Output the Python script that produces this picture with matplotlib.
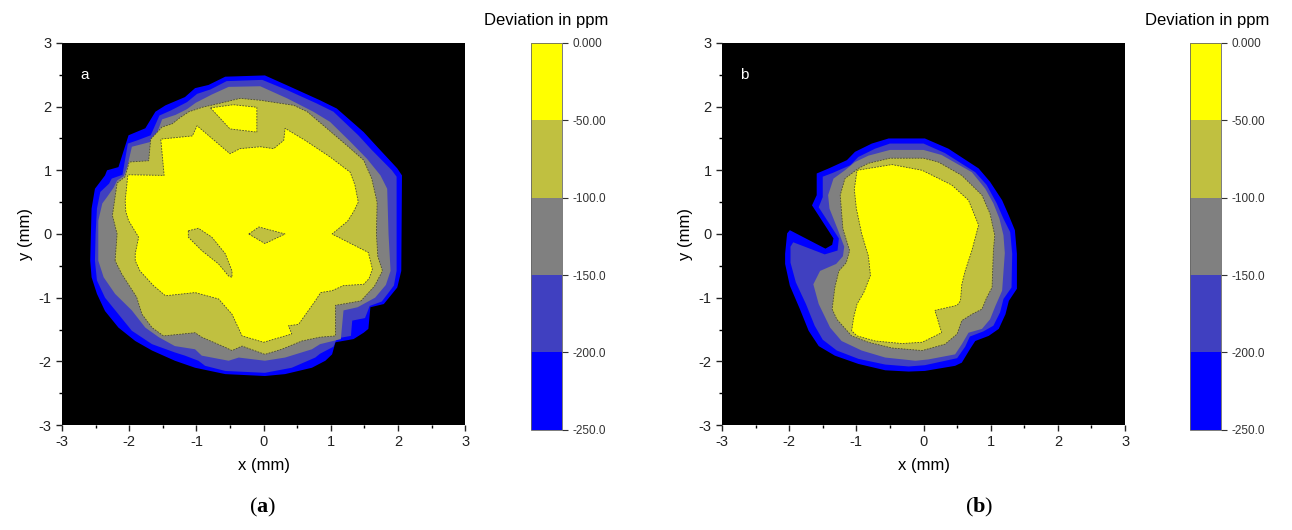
import numpy as np
import matplotlib
matplotlib.use("Agg")
import matplotlib.pyplot as plt
from matplotlib.colors import ListedColormap, BoundaryNorm
from matplotlib.cm import ScalarMappable

plt.rcParams['font.family'] = ['Liberation Sans', 'DejaVu Sans']
plt.rcParams['axes.unicode_minus'] = False
plt.rcParams['mathtext.fontset'] = 'custom'
plt.rcParams['mathtext.rm'] = 'Liberation Serif'
plt.rcParams['mathtext.bf'] = 'Liberation Serif:bold'

# contour levels (ppm) and their fill colours, lowest band first
levels = [-250, -200, -150, -100, -50, 0]
level_labels = ['-250.0', '-200.0', '-150.0', '-100.0', '-50.00', '0.000']
band_colors = ['#0000ff', '#4040c0', '#808080', '#c0c040', '#ffff00']

# ---- panel a: contour boundaries (x mm, y mm) ----
a_250 = [(-2.58, -0.42), (-2.57, 0.0), (-2.56, 0.40), (-2.51, 0.71), (-2.36, 0.92), (-2.33, 1.0),
         (-2.16, 1.05), (-2.01, 1.55), (-1.76, 1.66), (-1.61, 1.92), (-1.46, 2.02), (-1.17, 2.15),
         (-1.02, 2.29), (-0.82, 2.34), (-0.57, 2.47), (0.02, 2.49), (0.40, 2.31), (0.84, 2.10),
         (1.09, 1.97), (1.49, 1.60), (1.69, 1.37), (1.99, 1.03), (2.06, 0.92), (2.05, -0.58),
         (1.99, -0.84), (1.79, -1.10), (1.59, -1.15), (1.56, -1.49), (1.49, -1.55), (1.34, -1.65),
         (1.07, -1.70), (1.02, -1.89), (0.92, -1.99), (0.72, -2.10), (0.32, -2.20), (0.02, -2.23),
         (-0.57, -2.20), (-1.02, -2.10), (-1.32, -1.99), (-1.66, -1.83), (-1.91, -1.68),
         (-2.16, -1.47), (-2.36, -1.21), (-2.48, -0.94), (-2.56, -0.68)]
a_200 = [(-2.51, -0.42), (-2.50, 0.0), (-2.48, 0.40), (-2.43, 0.66), (-2.30, 0.79), (-2.26, 0.87),
         (-2.10, 0.93), (-2.02, 1.42), (-1.88, 1.47), (-1.68, 1.55), (-1.55, 1.86), (-1.38, 1.94),
         (-1.14, 2.07), (-0.99, 2.20), (-0.79, 2.27), (-0.55, 2.40), (-0.02, 2.42), (0.35, 2.26),
         (0.79, 2.05), (1.04, 1.92), (1.41, 1.55), (1.61, 1.32), (1.91, 1.0), (1.98, 0.90),
         (1.98, -0.58), (1.94, -0.81), (1.76, -1.06), (1.58, -1.13), (1.51, -1.32), (1.32, -1.36),
         (1.30, -1.60), (1.09, -1.64), (1.04, -1.77), (0.84, -1.88), (0.77, -1.94), (0.42, -2.10),
         (0.02, -2.18), (-0.57, -2.15), (-0.87, -2.07), (-0.97, -1.99), (-1.17, -1.91),
         (-1.32, -1.86), (-1.66, -1.73), (-1.96, -1.52), (-2.16, -1.26), (-2.36, -1.0), (-2.48, -0.73)]
a_150 = [(-2.46, -0.42), (-2.46, 0.21), (-2.40, 0.48), (-2.33, 0.58), (-2.23, 0.73), (-2.18, 0.84),
         (-2.08, 0.91), (-2.03, 1.05), (-1.96, 1.37), (-1.63, 1.46), (-1.51, 1.80), (-1.31, 1.87),
         (-1.14, 1.96), (-1.01, 2.06), (-0.77, 2.19), (-0.52, 2.31), (-0.05, 2.32), (0.35, 2.13),
         (0.74, 1.92), (0.99, 1.76), (1.29, 1.45), (1.54, 1.18), (1.74, 0.92), (1.84, 0.71),
         (1.86, 0.0), (1.89, -0.58), (1.82, -0.80), (1.66, -1.0), (1.40, -1.15), (1.19, -1.20),
         (1.15, -1.65), (0.84, -1.73), (0.72, -1.81), (0.32, -1.94), (0.02, -1.99), (-0.37, -1.94),
         (-0.52, -1.99), (-0.92, -1.91), (-1.02, -1.81), (-1.32, -1.76), (-1.56, -1.62),
         (-1.76, -1.47), (-1.96, -1.20), (-2.21, -0.94), (-2.38, -0.68)]
a_100 = [(-2.21, -0.42), (-2.18, 0.0), (-2.23, 0.21), (-2.25, 0.29), (-2.18, 0.80), (-2.06, 0.90),
         (-2.0, 1.13), (-1.71, 1.15), (-1.68, 1.49), (-1.51, 1.68), (-1.36, 1.73), (-1.24, 1.83),
         (-1.11, 1.92), (-0.91, 1.99), (-0.62, 2.06), (-0.35, 2.13), (-0.05, 2.10), (0.45, 2.02),
         (0.65, 1.92), (0.94, 1.66), (1.24, 1.39), (1.49, 1.16), (1.61, 0.87), (1.69, 0.50),
         (1.68, 0.0), (1.70, -0.35), (1.77, -0.58), (1.65, -0.82), (1.45, -1.05), (1.07, -1.12),
         (1.07, -1.60), (0.84, -1.62), (0.57, -1.68), (0.27, -1.81), (0.02, -1.89), (-0.32, -1.76),
         (-0.47, -1.83), (-0.57, -1.78), (-0.92, -1.62), (-1.02, -1.55), (-1.49, -1.60),
         (-1.66, -1.47), (-1.81, -1.26), (-1.89, -0.99), (-2.11, -0.63)]
a_50 = [(-1.91, -0.42), (-1.91, -0.31), (-1.86, -0.05), (-2.01, 0.21), (-2.05, 0.35), (-2.06, 0.52),
        (-2.02, 0.93), (-1.48, 0.92), (-1.53, 1.49), (-1.06, 1.54), (-0.99, 1.70), (-0.50, 1.26),
        (-0.35, 1.34), (-0.05, 1.37), (0.15, 1.34), (0.30, 1.47), (0.32, 1.66), (0.62, 1.47),
        (0.99, 1.21), (1.29, 0.97), (1.36, 0.77), (1.41, 0.50), (1.34, 0.35), (1.25, 0.20),
        (1.02, 0.0), (1.56, -0.29), (1.62, -0.55), (1.57, -0.70), (1.49, -0.79), (1.19, -0.81),
        (1.02, -0.89), (0.85, -0.92), (0.77, -1.05), (0.52, -1.42), (0.37, -1.44), (0.42, -1.57),
        (0.0, -1.70), (-0.32, -1.60), (-0.47, -1.26), (-0.67, -1.02), (-1.02, -0.92),
        (-1.46, -0.97), (-1.64, -0.81), (-1.84, -0.58)]
a_50_island = [(-0.79, 1.98), (-0.45, 2.03), (-0.10, 1.99), (-0.10, 1.60), (-0.50, 1.65)]
a_50_holes = [
    [(-1.12, 0.05), (-0.97, 0.09), (-0.77, -0.05), (-0.57, -0.31), (-0.47, -0.58), (-0.47, -0.68),
     (-0.52, -0.66), (-0.67, -0.47), (-0.92, -0.26), (-1.12, -0.05)],
    [(-0.22, 0.0), (-0.07, 0.11), (0.32, 0.0), (0.02, -0.15)],
]

# ---- panel b ----
b_250 = [(-2.03, 0.01), (-1.99, 0.06), (-1.46, -0.23), (-1.36, -0.17), (-1.34, -0.07), (-1.66, 0.45),
         (-1.59, 0.61), (-1.59, 0.95), (-1.41, 1.03), (-1.14, 1.16), (-1.02, 1.29), (-0.77, 1.42),
         (-0.52, 1.50), (0.02, 1.50), (0.37, 1.34), (0.82, 1.03), (0.99, 0.82), (1.17, 0.53),
         (1.27, 0.29), (1.36, 0.06), (1.39, -0.31), (1.39, -0.86), (1.27, -1.05), (1.22, -1.26),
         (1.12, -1.49), (0.97, -1.60), (0.77, -1.68), (0.69, -1.81), (0.57, -2.02), (0.47, -2.07),
         (0.02, -2.15), (-0.22, -2.16), (-0.57, -2.14), (-0.97, -2.04), (-1.32, -1.91),
         (-1.56, -1.76), (-1.71, -1.52), (-1.84, -1.18), (-1.99, -0.81), (-2.06, -0.47), (-2.06, -0.31)]
b_200 = [(-1.94, -0.13), (-1.47, -0.32), (-1.28, -0.26), (-1.26, -0.07), (-1.56, 0.42), (-1.50, 0.58),
         (-1.50, 0.90), (-1.35, 0.96), (-1.09, 1.08), (-0.97, 1.21), (-0.72, 1.34), (-0.50, 1.42),
         (0.0, 1.42), (0.32, 1.27), (0.77, 0.97), (0.94, 0.77), (1.09, 0.48), (1.19, 0.24),
         (1.29, 0.03), (1.32, -0.31), (1.31, -0.84), (1.19, -1.02), (1.14, -1.23), (1.04, -1.44),
         (0.89, -1.53), (0.69, -1.61), (0.62, -1.77), (0.50, -1.95), (0.02, -2.06), (-0.22, -2.08),
         (-0.57, -2.05), (-0.97, -1.96), (-1.29, -1.83), (-1.50, -1.66), (-1.62, -1.44),
         (-1.75, -1.10), (-1.90, -0.76), (-1.98, -0.45), (-1.98, -0.20)]
b_150 = [(-1.18, -0.20), (-1.28, 0.08), (-1.40, 0.40), (-1.42, 0.61), (-1.34, 0.87), (-1.17, 1.0),
         (-1.02, 1.13), (-0.82, 1.23), (-0.50, 1.32), (0.0, 1.32), (0.27, 1.24), (0.72, 0.97),
         (0.92, 0.71), (1.04, 0.48), (1.13, 0.24), (1.19, -0.02), (1.21, -0.30), (1.17, -0.89),
         (1.07, -1.13), (0.99, -1.34), (0.87, -1.49), (0.67, -1.55), (0.57, -1.73), (0.47, -1.89),
         (0.07, -1.97), (-0.12, -1.99), (-0.57, -1.94), (-0.92, -1.83), (-1.22, -1.68),
         (-1.39, -1.47), (-1.56, -1.10), (-1.64, -0.79), (-1.54, -0.58), (-1.30, -0.47), (-1.20, -0.35)]
b_100 = [(-1.10, -0.26), (-1.20, 0.08), (-1.24, 0.61), (-1.17, 0.87), (-0.97, 1.03), (-0.82, 1.11),
         (-0.50, 1.19), (0.0, 1.19), (0.22, 1.13), (0.57, 0.92), (0.87, 0.61), (0.99, 0.32),
         (1.06, -0.02), (1.04, -0.26), (1.02, -0.84), (0.94, -1.0), (0.87, -1.18), (0.72, -1.26),
         (0.57, -1.36), (0.50, -1.57), (0.32, -1.73), (-0.02, -1.83), (-0.47, -1.79), (-0.82, -1.70),
         (-1.07, -1.60), (-1.29, -1.34), (-1.36, -1.18), (-1.32, -0.84), (-1.26, -0.58), (-1.15, -0.45)]
b_50 = [(-0.99, 1.0), (-0.47, 1.09), (-0.02, 1.0), (0.42, 0.77), (0.67, 0.53), (0.82, 0.14),
        (0.72, -0.26), (0.62, -0.58), (0.57, -0.79), (0.55, -1.05), (0.50, -1.12), (0.17, -1.20),
        (0.27, -1.55), (-0.02, -1.70), (-0.32, -1.72), (-0.72, -1.68), (-0.99, -1.60), (-1.07, -1.52),
        (-1.04, -1.31), (-0.99, -1.10), (-0.89, -0.92), (-0.79, -0.65), (-0.82, -0.35), (-0.92, 0.0),
        (-1.0, 0.40), (-1.03, 0.70)]


def fill_poly(ax, verts, color, edge=False):
    xs, ys = zip(*verts)
    ax.fill(xs, ys, color=color, lw=0)
    if edge:
        ax.fill(xs, ys, facecolor='none', edgecolor='#4a4a30', lw=0.6, ls=(0, (2, 1.5)))


def draw_panel(ax, polys, letter, extra_yellow=(), holes=()):
    ax.set_facecolor('black')
    for i, verts in enumerate(polys):
        fill_poly(ax, verts, band_colors[i], edge=(i >= 3))
    for verts in extra_yellow:
        fill_poly(ax, verts, band_colors[4], edge=True)
    for verts in holes:
        fill_poly(ax, verts, band_colors[3], edge=True)
    ax.set_xlim(-3, 3)
    ax.set_ylim(-3, 3)
    ax.set_xticks(range(-3, 4))
    ax.set_yticks(range(-3, 4))
    ax.set_xticks(np.arange(-3, 3.01, 0.5), minor=True)
    ax.set_yticks(np.arange(-3, 3.01, 0.5), minor=True)
    ax.tick_params(which='major', direction='out', length=4, width=1, labelsize=10.5, colors='#222222')
    ax.tick_params(which='minor', direction='out', length=2.5, width=1)
    for s in ax.spines.values():
        s.set_visible(False)
    ax.set_xlabel('x (mm)', fontsize=12, labelpad=6)
    ax.set_ylabel('y (mm)', fontsize=12, labelpad=4)
    ax.text(-2.73, 2.5, letter, color='white', fontsize=11, va='center')


cmap = ListedColormap(band_colors)
norm = BoundaryNorm(levels, cmap.N)


def draw_cbar(fig, left):
    cax = fig.add_axes([left, 0.189, 0.024, 0.730])
    cb = fig.colorbar(ScalarMappable(norm=norm, cmap=cmap), cax=cax, ticks=levels)
    cb.ax.set_yticklabels(level_labels)
    cb.ax.tick_params(labelsize=8.5, length=4, width=0.8, direction='out', colors='#333333')
    cb.outline.set_linewidth(0.6)
    cb.outline.set_edgecolor('#666666')
    return cax


fig = plt.figure(figsize=(12.92, 5.30), dpi=100)
ax_a = fig.add_axes([0.048, 0.198, 0.312, 0.721])
ax_b = fig.add_axes([0.5588, 0.198, 0.312, 0.721])

draw_panel(ax_a, [a_250, a_200, a_150, a_100, a_50], 'a', extra_yellow=[a_50_island], holes=a_50_holes)
draw_panel(ax_b, [b_250, b_200, b_150, b_100, b_50], 'b')

draw_cbar(fig, 0.411)
draw_cbar(fig, 0.921)

fig.text(0.4225, 0.962, 'Deviation in ppm', fontsize=12, ha='center', va='center')
fig.text(0.934, 0.962, 'Deviation in ppm', fontsize=12, ha='center', va='center')

fig.text(0.203, 0.042, r'($\mathbf{a}$)', fontsize=16, ha='center', va='center', family='Liberation Serif')
fig.text(0.758, 0.042, r'($\mathbf{b}$)', fontsize=16, ha='center', va='center', family='Liberation Serif')

fig.savefig('out.png', dpi=100)
